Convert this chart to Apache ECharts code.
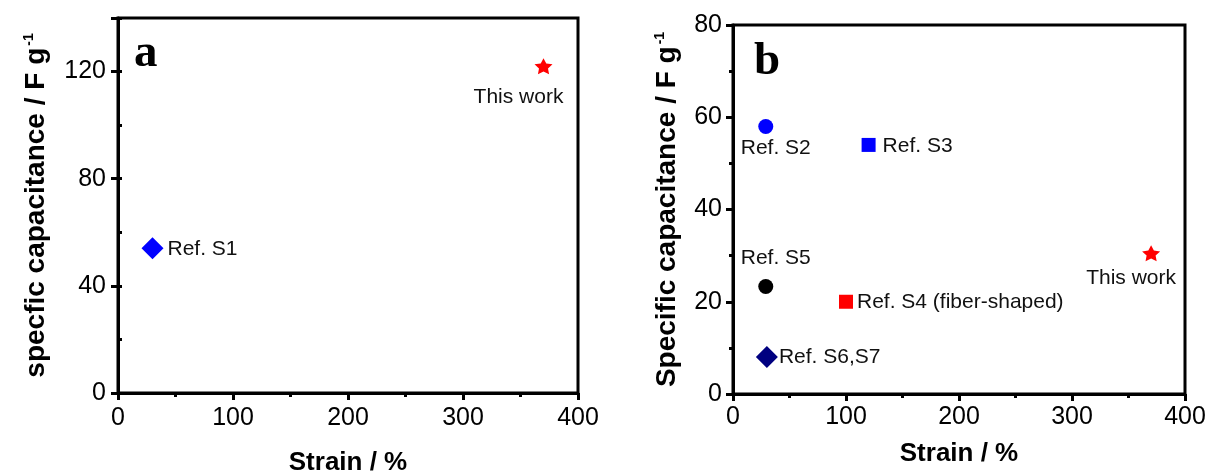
<!DOCTYPE html>
<html>
<head>
<meta charset="utf-8">
<script src="https://cdn.jsdelivr.net/npm/echarts@6/dist/echarts.min.js"></script>
<style>
html,body{margin:0;padding:0;background:#fff;}
#chart{width:1211px;height:472px;}
</style>
</head>
<body>
<div id="chart"></div>
<script>
// ---- Data ----
const strainTicks = [0, 100, 200, 300, 400];
const panelA_yTicks = [0, 40, 80, 120];
const panelB_yTicks = [0, 20, 40, 60, 80];

const panelA_labels = ['Ref. S1', 'This work'];
const panelA_strain = [30, 370];
const panelA_capacitance = [54, 122];

const panelB_labels = ['Ref. S2', 'Ref. S3', 'Ref. S4 (fiber-shaped)', 'Ref. S5', 'Ref. S6,S7', 'This work'];
const panelB_strain = [29, 120, 100, 29, 30, 370];
const panelB_capacitance = [58, 54, 20, 23.3, 8, 30.5];

// ---- Styles ----
const STAR = 'path://M50,0 L64.69,29.77 L97.55,34.55 L73.78,57.73 L79.39,90.45 L50,75 L20.61,90.45 L26.22,57.73 L2.45,34.55 L35.31,29.77 Z';
const panelA_styles = [
  {symbol: 'diamond', size: 22, color: '#0000ff', align: 'left', offset: [15, 1]},
  {symbol: STAR, size: [18, 16], color: '#ff0000', align: 'center', offset: [-25, 31]}
];
const panelB_styles = [
  {symbol: 'circle', size: 15, color: '#0000ff', align: 'center', offset: [10, 22]},
  {symbol: 'square', size: 14, color: '#0000ff', align: 'left', offset: [14, 1]},
  {symbol: 'square', size: 14, color: '#ff0000', align: 'left', offset: [11, 0]},
  {symbol: 'circle', size: 15, color: '#000000', align: 'center', offset: [10, -28]},
  {symbol: 'diamond', size: 22, color: '#000080', align: 'left', offset: [12, 0]},
  {symbol: STAR, size: [18, 16], color: '#ff0000', align: 'center', offset: [-20, 25]}
];

function buildPoints(labels, xs, ys, styles) {
  return xs.map((x, i) => ({
    name: labels[i],
    value: [x, ys[i]],
    symbol: styles[i].symbol,
    symbolSize: styles[i].size,
    itemStyle: {color: styles[i].color, opacity: 1},
    label: {
      show: true,
      position: 'inside',
      formatter: '{b}',
      align: styles[i].align,
      verticalAlign: 'middle',
      offset: styles[i].offset,
      fontFamily: 'Liberation Sans',
      fontSize: 21,
      color: '#111'
    }
  }));
}

const axisBlack = {color: '#000', width: 3};

function xAxisCfg(gridIndex, nameGap, labelMargin) {
  return {
    gridIndex: gridIndex, type: 'value',
    min: strainTicks[0], max: strainTicks[strainTicks.length - 1],
    interval: strainTicks[1] - strainTicks[0],
    axisLine: {show: true, onZero: false, lineStyle: axisBlack},
    axisTick: {show: true, inside: false, length: 7, lineStyle: axisBlack},
    minorTick: {show: true, splitNumber: 2, length: 4, lineStyle: axisBlack},
    splitLine: {show: false},
    axisLabel: {fontFamily: 'Liberation Sans', fontSize: 25, color: '#000', margin: labelMargin},
    name: 'Strain / %', nameLocation: 'middle', nameGap: nameGap,
    nameTextStyle: {fontFamily: 'Liberation Sans', fontSize: 26, fontWeight: 'bold', color: '#000'}
  };
}

function yNameStyle(size) {
  return {
    fontFamily: 'Liberation Sans', fontSize: size, fontWeight: 'bold', color: '#000',
    rich: {
      sup: {fontFamily: 'Liberation Sans', fontSize: 14, fontWeight: 'bold', color: '#000', verticalAlign: 'top', padding: [0, 0, 0, 2]}
    }
  };
}

const option = {
  backgroundColor: '#fff',
  animation: false,
  grid: [
    {left: 118, top: 18, width: 460, height: 375, show: true, borderColor: '#000', borderWidth: 3, outerBoundsMode: 'none', containLabel: false},
    {left: 733, top: 25, width: 452, height: 369, show: true, borderColor: '#000', borderWidth: 3, outerBoundsMode: 'none', containLabel: false}
  ],
  xAxis: [xAxisCfg(0, 57, 13), xAxisCfg(1, 47, 11)],
  yAxis: [
    {
      gridIndex: 0, type: 'value', min: 0, max: 140,
      interval: panelA_yTicks[1] - panelA_yTicks[0],
      axisLine: {show: true, onZero: false, lineStyle: axisBlack},
      axisTick: {show: true, length: 7, lineStyle: axisBlack},
      splitLine: {show: false},
      axisLabel: {fontFamily: 'Liberation Sans', fontSize: 25, color: '#000', margin: 12,
        formatter: v => (panelA_yTicks.indexOf(v) >= 0 ? String(v) : '')},
      name: 'specfic capacitance / F g{sup|-1}', nameLocation: 'middle', nameGap: 68,
      nameTextStyle: yNameStyle(28)
    },
    {
      // minor ticks overlay for panel a
      gridIndex: 0, type: 'value', min: 0, max: 140, interval: 20,
      axisLine: {show: false},
      axisTick: {show: true, length: 4, lineStyle: axisBlack},
      axisLabel: {show: false},
      splitLine: {show: false}
    },
    {
      gridIndex: 1, type: 'value',
      min: panelB_yTicks[0], max: panelB_yTicks[panelB_yTicks.length - 1],
      interval: panelB_yTicks[1] - panelB_yTicks[0],
      axisLine: {show: true, onZero: false, lineStyle: axisBlack},
      axisTick: {show: true, length: 7, lineStyle: axisBlack},
      minorTick: {show: true, splitNumber: 2, length: 4, lineStyle: axisBlack},
      splitLine: {show: false},
      axisLabel: {fontFamily: 'Liberation Sans', fontSize: 25, color: '#000', margin: 11},
      name: 'Specific capacitance / F g{sup|-1}', nameLocation: 'middle', nameGap: 52,
      nameTextStyle: yNameStyle(28)
    }
  ],
  graphic: [
    {type: 'text', x: 134, y: 54, style: {text: 'a', font: 'bold 47px "Liberation Serif"', fill: '#000', textAlign: 'left', textVerticalAlign: 'middle'}},
    {type: 'text', x: 754, y: 62, style: {text: 'b', font: 'bold 47px "Liberation Serif"', fill: '#000', textAlign: 'left', textVerticalAlign: 'middle'}}
  ],
  series: [
    {type: 'scatter', xAxisIndex: 0, yAxisIndex: 0, data: buildPoints(panelA_labels, panelA_strain, panelA_capacitance, panelA_styles)},
    {type: 'scatter', xAxisIndex: 1, yAxisIndex: 2, data: buildPoints(panelB_labels, panelB_strain, panelB_capacitance, panelB_styles)}
  ]
};

const chart = echarts.init(document.getElementById('chart'), null, {renderer: 'canvas'});
chart.setOption(option);
</script>
</body>
</html>
